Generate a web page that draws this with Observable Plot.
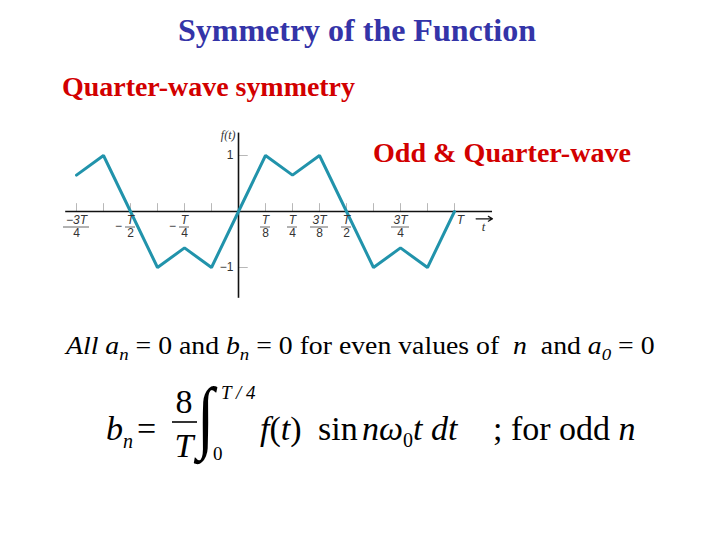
<!DOCTYPE html>
<html>
<head>
<meta charset="utf-8">
<script src="https://cdn.jsdelivr.net/npm/d3@7"></script>
<script src="https://cdn.jsdelivr.net/npm/@observablehq/plot@0.6"></script>
<style>
  html, body { margin: 0; padding: 0; background: #fff; }
  #slide { position: relative; width: 720px; height: 540px; overflow: hidden; background: #fff; }
  #plot { position: absolute; left: 55px; top: 120px; }
  #txt { position: absolute; left: 0; top: 0; pointer-events: none; }
  #txt text { font-family: "Liberation Serif", "Times New Roman", serif; white-space: pre; }
</style>
</head>
<body>
<div id="slide">
  <div id="plot"></div>
  <svg id="txt" width="720" height="540" xmlns="http://www.w3.org/2000/svg">
    <text x="357" y="41" text-anchor="middle" font-size="32" font-weight="bold" fill="#3434a8" textLength="358" lengthAdjust="spacingAndGlyphs">Symmetry of the Function</text>
    <text x="62" y="96" font-size="27" font-weight="bold" fill="#d20000" textLength="293" lengthAdjust="spacingAndGlyphs">Quarter-wave symmetry</text>
    <text x="373" y="162" font-size="27" font-weight="bold" fill="#d20000" textLength="258" lengthAdjust="spacingAndGlyphs">Odd &amp; Quarter-wave</text>
    <g id="para"><text x="66" y="354" font-size="25" fill="#000"><tspan font-style="italic">All a</tspan><tspan font-style="italic" font-size="17" dy="6">n</tspan><tspan dy="-6"> = 0 and </tspan><tspan font-style="italic">b</tspan><tspan font-style="italic" font-size="17" dy="6">n</tspan><tspan dy="-6"> = 0 for even values of  </tspan><tspan font-style="italic">n</tspan><tspan>  and </tspan><tspan font-style="italic">a</tspan><tspan font-style="italic" font-size="17" dy="6">0</tspan><tspan dy="-6"> = 0</tspan></text></g>
    <g font-size="34" fill="#000">
      <text x="106" y="440" font-style="italic">b</text>
      <text x="123" y="448" font-style="italic" font-size="20">n</text>
      <text x="137" y="440">=</text>
      <text x="184" y="413" text-anchor="middle">8</text>
      <line x1="172" y1="422" x2="197" y2="422" stroke="#000" stroke-width="1.6"></line>
      <text x="184" y="457" text-anchor="middle" font-style="italic">T</text>
      <text x="0" y="0" font-size="80" transform="translate(197,443) scale(0.78,1)">∫</text>
      <text x="221" y="399" font-size="19" font-style="italic">T / 4</text>
      <text x="213" y="460" font-size="19">0</text>
      <text x="260" y="440"><tspan font-style="italic">f</tspan><tspan>(</tspan><tspan font-style="italic">t</tspan><tspan>)</tspan></text>
      <text x="318" y="440">sin</text>
      <text x="362" y="440"><tspan font-style="italic">nω</tspan><tspan font-size="20" dy="7">0</tspan><tspan dy="-7" font-style="italic">t dt</tspan></text>
      <text x="493" y="440"><tspan>; for odd </tspan><tspan font-style="italic">n</tspan></text>
    </g>
  </svg>
</div>
<script>
// ---- data (t in units of the period T) ----
const waveT = [-0.75, -0.625, -0.5, -0.375, -0.25, -0.125, 0, 0.125, 0.25, 0.375, 0.5, 0.625, 0.75, 0.875, 1];
const waveF = [0.65, 1, 0, -1, -0.65, -1, 0, 1, 0.65, 1, 0, -1, -0.65, -1, 0];
const xTicks = [-0.75, -0.625, -0.5, -0.375, -0.25, -0.125, 0.125, 0.25, 0.375, 0.5, 0.625, 0.75, 0.875, 1];
const yTicks = [-1, 1];
const yTickLabels = ["−1", "1"];
const labelT = [-0.75, -0.5, -0.25, 0.125, 0.25, 0.375, 0.5, 0.75];
const labelSign = ["", "−", "−", "", "", "", "", ""];
const labelNum = ["−3T", "T", "T", "T", "T", "3T", "T", "3T"];
const labelDen = ["4", "2", "4", "8", "4", "8", "2", "4"];
const endLabel = "T";
const endLabelT = 1;
const axisLabel = "f(t)";
const timeLabel = "t";

const wave = waveT.map((t, i) => ({t, f: waveF[i]}));
const lab = labelT.map((t, i) => ({t, sign: labelSign[i], num: labelNum[i], den: labelDen[i]}));
const pxPerT = 216;

const chart = Plot.plot({
  width: 450,
  height: 190,
  marginLeft: 10.2,
  marginRight: 7.8,
  marginTop: 12.6,
  marginBottom: 12.2,
  x: {domain: [-0.8, 1.2], axis: null},
  y: {domain: [-1.55, 1.4], axis: null},
  style: {fontFamily: "Liberation Sans, DejaVu Sans, sans-serif", fontSize: "12px", background: "transparent", overflow: "visible"},
  marks: [
    Plot.ruleX(xTicks, {x: d => d, y1: 0, y2: 0.14, stroke: "#b8b8b8", strokeWidth: 1}),
    Plot.ruleY(yTicks, {y: d => d, x1: 0, x2: 0.045, stroke: "#b8b8b8", strokeWidth: 1}),
    Plot.ruleY([0], {x1: -0.8, x2: 1.176, stroke: "#111", strokeWidth: 1.6}),
    Plot.ruleX([0], {stroke: "#111", strokeWidth: 1.6}),
    Plot.line(wave, {x: "t", y: "f", stroke: "#2193ab", strokeWidth: 3, strokeLinejoin: "miter"}),
    Plot.arrow([0], {x1: 1.1, x2: 1.176, y1: -0.13, y2: -0.13, stroke: "#111", strokeWidth: 1.2, headLength: 6}),
    Plot.text(lab, {x: "t", y: 0, text: "num", dy: 9, fontStyle: "italic", fill: "#333"}),
    Plot.text(lab, {x: "t", y: 0, text: "den", dy: 22, fill: "#333"}),
    Plot.ruleY(lab, {y: 0, x1: d => d.t - (d.num.length * 4 + 1) / pxPerT, x2: d => d.t + (d.num.length * 4 + 1) / pxPerT, dy: 15.5, stroke: "#555", strokeWidth: 0.9}),
    Plot.text(lab, {x: "t", y: 0, text: "sign", dy: 15, dx: -12, fill: "#333"}),
    Plot.text([endLabel], {x: endLabelT, y: 0, text: d => d, dx: 6, dy: 9, fontStyle: "italic", fill: "#333"}),
    Plot.text(yTicks, {x: 0, y: d => d, text: (d, i) => yTickLabels[i], dx: -5, textAnchor: "end", fontSize: 12, fill: "#333"}),
    Plot.text([axisLabel], {x: 0, y: 1.4, text: d => d, dx: -3, dy: 2, textAnchor: "end", fontStyle: "italic", fontFamily: "Liberation Serif", fontSize: 12, fill: "#333"}),
    Plot.text([timeLabel], {x: 1.134, y: -0.28, text: d => d, fontStyle: "italic", fontFamily: "Liberation Serif", fontSize: 13, fill: "#333"})
  ]
});
document.getElementById("plot").appendChild(chart);

// stretch the paragraph line to the reference width (66 → 657)
const para = document.querySelector("#para text");
const bb = para.getBBox();
const s = 591 / bb.width;
document.getElementById("para").setAttribute("transform", `translate(66,0) scale(${s},1) translate(-66,0)`);
</script>
</body>
</html>
